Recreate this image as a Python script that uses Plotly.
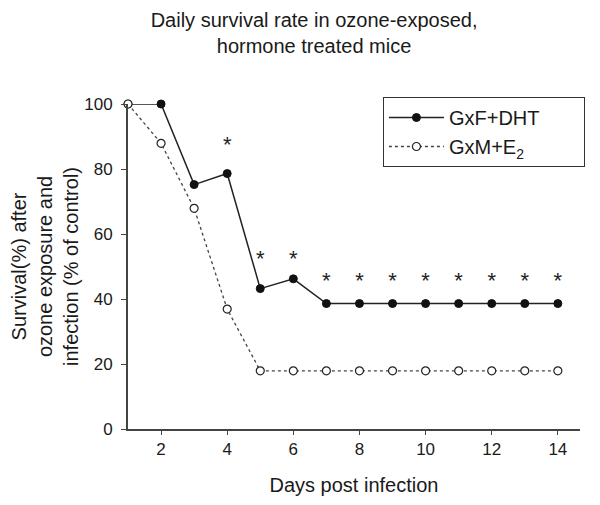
import plotly.graph_objects as go

days = [1, 2, 3, 4, 5, 6, 7, 8, 9, 10, 11, 12, 13, 14]
gxf_dht = [100, 100, 75.2, 78.6, 43.2, 46.2, 38.6, 38.6, 38.6, 38.6, 38.6, 38.6, 38.6, 38.6]
gxm_e2 = [100, 87.9, 67.9, 36.9, 17.9, 17.9, 17.9, 17.9, 17.9, 17.9, 17.9, 17.9, 17.9, 17.9]
star_days = [4, 5, 6, 7, 8, 9, 10, 11, 12, 13, 14]
star_y = [87, 52, 52, 45, 45, 45, 45, 45, 45, 45, 45]
x_ticks = [2, 4, 6, 8, 10, 12, 14]
y_ticks = [0, 20, 40, 60, 80, 100]
series_names = ["GxF+DHT", "GxM+E<sub>2</sub>"]

font = "Liberation Sans, Arial, sans-serif"
ax_col = "#444444"
txt = "#1a1a1a"
pad = "\u00a0" * 7  # widens the legend box to match the reference

fig = go.Figure()
fig.add_trace(go.Scatter(
    x=days, y=gxf_dht, name=series_names[0] + pad, mode="lines+markers",
    line=dict(color="#222222", width=1.5, dash="solid"),
    marker=dict(symbol="circle", size=8, color="#111111", line=dict(color="#111111", width=1)),
    cliponaxis=False,
))
fig.add_trace(go.Scatter(
    x=days, y=gxm_e2, name=series_names[1], mode="lines+markers",
    line=dict(color="#444444", width=1.3, dash="dot"),
    marker=dict(symbol="circle", size=8, color="white", line=dict(color="#222222", width=1.2)),
    cliponaxis=False,
))
fig.add_trace(go.Scatter(
    x=star_days, y=star_y, mode="text", text=["*"] * len(star_days),
    textfont=dict(family=font, size=22, color="#222222"),
    textposition="middle center", showlegend=False, hoverinfo="skip",
    cliponaxis=False,
))

fig.update_layout(
    width=592, height=497,
    margin=dict(l=120, r=20, t=96, b=76),
    paper_bgcolor="white", plot_bgcolor="white",
    font=dict(family=font, size=17, color=txt),
    title=dict(
        text="Daily survival rate in ozone-exposed,<br>hormone treated mice",
        x=0.517, xanchor="center", y=0.962, yanchor="top",
        font=dict(family=font, size=20, color=txt),
    ),
    legend=dict(
        x=0.564, y=1.0215, xanchor="left", yanchor="top",
        bordercolor="#333333", borderwidth=1, bgcolor="white",
        font=dict(family=font, size=20, color=txt),
        tracegroupgap=0, itemwidth=55,
    ),
    showlegend=True,
)
fig.update_xaxes(
    range=[1, 14.67], tickvals=x_ticks, showgrid=False, zeroline=False,
    showline=True, linecolor=ax_col, linewidth=1.8, automargin=False,
    ticks="outside", ticklen=4, tickcolor=ax_col,
    tickfont=dict(family=font, size=17, color=txt),
    title=dict(text="Days post infection", font=dict(family=font, size=20, color=txt), standoff=20),
)
fig.update_yaxes(
    range=[0, 100], tickvals=y_ticks, showgrid=False, zeroline=False,
    showline=True, linecolor=ax_col, linewidth=1.8, automargin=False,
    ticks="outside", ticklen=5, tickcolor=ax_col, ticklabelstandoff=5,
    tickfont=dict(family=font, size=17, color=txt),
    title=dict(text="Survival(%) after<br>ozone exposure and<br>infection (% of control)",
               font=dict(family=font, size=20, color=txt), standoff=8),
)

fig.write_html("out.html")
